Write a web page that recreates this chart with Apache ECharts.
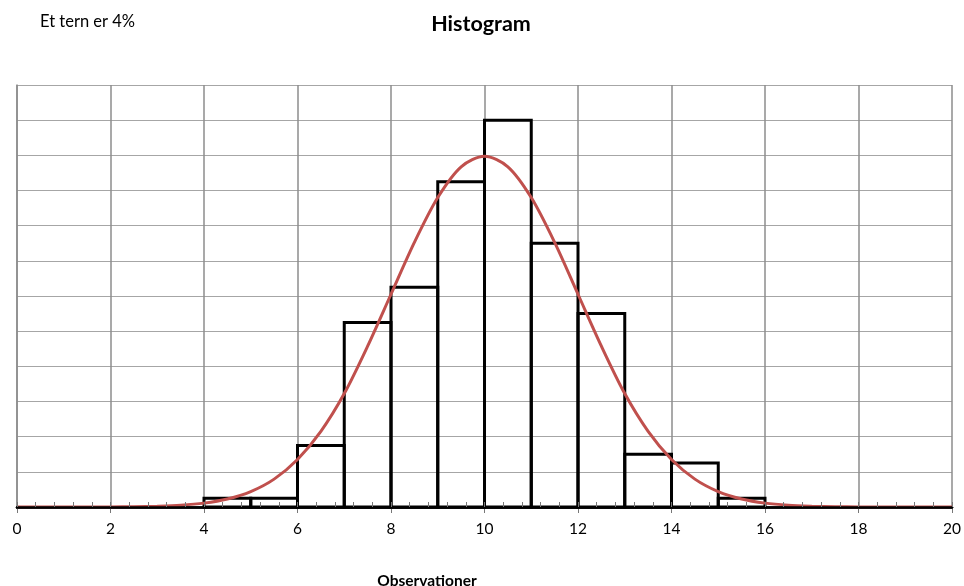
<!DOCTYPE html>
<html>
<head>
<meta charset="utf-8">
<script src="https://cdn.jsdelivr.net/npm/echarts@6/dist/echarts.min.js"></script>
<style>
html,body{margin:0;padding:0;background:#fff;}
#c{width:964px;height:586px;}
</style>
</head>
<body>
<div id="c"></div>
<script>
// Histogram bins (left edge) and counts
var binStarts = [4, 5, 6, 7, 8, 9, 10, 11, 12, 13, 14, 15];
var binWidth = 1;
var counts = [1, 1, 7, 21, 25, 37, 44, 30, 22, 6, 5, 1];

// Fitted curve
var curveX = [0, 0.5, 1, 1.5, 2, 2.5, 3, 3.5, 4, 4.5, 5, 5.5, 6, 6.5, 7, 7.5, 8, 8.5, 9, 9.5, 10,
              10.5, 11, 11.5, 12, 12.5, 13, 13.5, 14, 14.5, 15, 15.5, 16, 16.5, 17, 17.5, 18, 18.5, 19, 19.5, 20];
var curveY = [0, 0, 0, 0, 0.01, 0.03, 0.09, 0.2, 0.44, 0.91, 1.75, 3.17, 5.4, 8.6, 12.9, 18.3, 24.2, 30.1, 35.2, 38.7, 39.9,
              38.7, 35.2, 30.1, 24.2, 18.3, 12.9, 8.6, 5.4, 3.17, 1.75, 0.91, 0.44, 0.2, 0.09, 0.03, 0.01, 0, 0, 0, 0];

var xTickLabels = ['0', '2', '4', '6', '8', '10', '12', '14', '16', '18', '20'];

var titleText = 'Histogram';
var noteText = 'Et tern er 4%';
var xAxisName = 'Observationer';

var FONT = 'Lato, "Open Sans", sans-serif';

var barData = binStarts.map(function (s, i) { return [s, s + binWidth, counts[i]]; });
var curveData = curveX.map(function (x, i) { return [x, curveY[i]]; });

var chart = echarts.init(document.getElementById('c'), null, { renderer: 'canvas' });
chart.setOption({
  animation: false,
  backgroundColor: '#fff',
  title: [
    { text: titleText, left: 476, top: 8, textAlign: 'center',
      textStyle: { fontFamily: FONT, fontSize: 21.5, fontWeight: 'bold', color: '#000' } },
    { text: noteText, left: 35, top: 8,
      textStyle: { fontFamily: FONT, fontSize: 16.5, fontWeight: 'normal', color: '#000' } },
    { text: xAxisName, left: 422, top: 568, textAlign: 'center',
      textStyle: { fontFamily: FONT, fontSize: 15.5, fontWeight: 'bold', color: '#000' } }
  ],
  grid: { left: 17, right: 11, top: 85, bottom: 79, containLabel: false },
  xAxis: [
    {
      type: 'value', min: 0, max: 20, interval: 2,
      axisLine: { show: true, lineStyle: { color: '#000', width: 2.5 } },
      axisTick: { show: true, length: 6, lineStyle: { color: '#777', width: 1 } },
      axisLabel: {
        margin: 14, fontFamily: FONT, fontSize: 15.5, color: '#000',
        formatter: function (v) { var i = Math.round(v / 2); return xTickLabels[i] !== undefined ? xTickLabels[i] : ''; }
      },
      splitLine: { show: true, lineStyle: { color: '#8c8c8c', width: 1.5 } }
    },
    {
      type: 'value', min: 0, max: 20, interval: 0.4, position: 'bottom',
      z: 10,
      axisLine: { show: true, onZero: false, lineStyle: { color: '#000', width: 2.5 } },
      axisTick: { show: true, inside: true, length: 5, lineStyle: { color: '#777', width: 1 } },
      axisLabel: { show: false },
      splitLine: { show: false }
    }
  ],
  yAxis: {
    type: 'value', min: 0, max: 48, interval: 4,
    axisLine: { show: true, lineStyle: { color: '#8c8c8c', width: 1.5 } },
    axisTick: { show: false },
    axisLabel: { show: false },
    splitLine: { show: true, lineStyle: { color: '#a6a6a6', width: 1.2 } }
  },
  series: [
    {
      type: 'custom',
      xAxisIndex: 0,
      z: 3,
      data: barData,
      renderItem: function (params, api) {
        var p0 = api.coord([api.value(0), 0]);
        var p1 = api.coord([api.value(1), api.value(2)]);
        return {
          type: 'rect',
          shape: { x: p0[0], y: p1[1], width: p1[0] - p0[0], height: p0[1] - p1[1] },
          style: { fill: 'none', stroke: '#000', lineWidth: 3 }
        };
      }
    },
    {
      type: 'line',
      xAxisIndex: 0,
      z: 4,
      data: curveData,
      smooth: 0.3,
      showSymbol: false,
      lineStyle: { color: '#C0504D', width: 3 }
    }
  ]
});
</script>
</body>
</html>
